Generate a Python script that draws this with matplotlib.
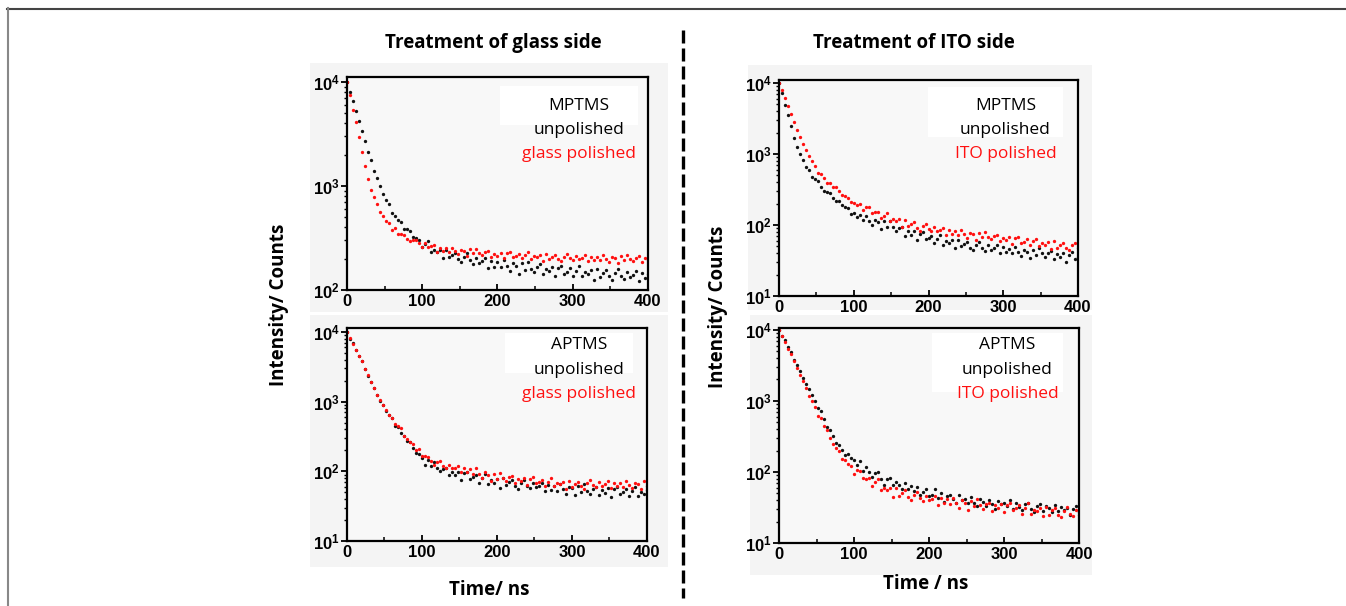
import matplotlib.pyplot as plt
from matplotlib.patches import Rectangle
from matplotlib.lines import Line2D
from matplotlib.ticker import FuncFormatter, NullFormatter, MultipleLocator
import numpy as np

plt.rcParams['mathtext.fontset'] = 'custom'
plt.rcParams['mathtext.bf'] = 'Liberation Sans:bold'
plt.rcParams['mathtext.rm'] = 'Liberation Sans'

# decay traces, one point every 4 ns (counts)
time_ns = list(range(0, 401, 4))

glass_mptms_unpolished = [
    10000, 7960, 6560, 5235, 4190, 3420, 2695, 2140, 1765, 1400,
    1200, 998, 841, 733, 672, 550, 517, 471, 449, 386,
    388, 372, 323, 313, 304, 259, 275, 295, 233, 245,
    234, 245, 204, 244, 207, 218, 226, 200, 184, 208,
    226, 193, 179, 205, 182, 189, 204, 163, 190, 168,
    185, 165, 194, 171, 151, 181, 171, 143, 182, 157,
    187, 161, 149, 166, 176, 142, 161, 151, 167, 135,
    162, 172, 144, 150, 163, 136, 154, 171, 135, 148,
    143, 155, 125, 161, 134, 146, 156, 135, 124, 147,
    158, 137, 128, 149, 133, 139, 152, 123, 145, 130,
    144]
glass_mptms_polished = [
    10000, 7480, 5450, 4100, 2970, 2120, 1568, 1175, 919, 780,
    676, 567, 513, 462, 437, 376, 393, 345, 342, 339,
    310, 293, 304, 306, 281, 262, 281, 259, 263, 271,
    234, 256, 238, 251, 232, 256, 236, 221, 245, 237,
    213, 246, 225, 249, 228, 216, 230, 237, 207, 224,
    214, 227, 201, 225, 232, 208, 214, 224, 201, 217,
    231, 200, 211, 206, 218, 191, 222, 199, 209, 217,
    200, 190, 210, 220, 202, 194, 212, 198, 204, 215,
    189, 209, 195, 207, 193, 215, 200, 187, 209, 203,
    183, 212, 195, 218, 200, 191, 204, 212, 187, 203,
    195]
glass_aptms_unpolished = [
    10000, 7960, 6870, 5500, 4580, 3770, 2968, 2357, 1915, 1581,
    1255, 1034, 890, 735, 641, 578, 447, 427, 352, 326,
    272, 265, 219, 185, 179, 156, 125, 144, 120, 134,
    111, 100, 108, 110, 88, 97, 89, 98, 75, 94,
    99, 78, 82, 89, 69, 81, 92, 66, 74, 69,
    77, 57, 79, 63, 70, 75, 62, 55, 68, 75,
    61, 57, 68, 59, 62, 69, 52, 63, 54, 61,
    53, 65, 56, 48, 60, 57, 45, 61, 51, 65,
    53, 48, 56, 60, 45, 54, 49, 57, 43, 55,
    59, 47, 51, 56, 44, 52, 60, 44, 50, 48,
    54]
glass_aptms_polished = [
    10000, 8300, 6750, 5490, 4590, 3775, 2940, 2407, 1894, 1566,
    1234, 1055, 897, 748, 644, 584, 470, 444, 414, 324,
    295, 262, 247, 201, 206, 164, 165, 162, 139, 125,
    136, 139, 121, 111, 122, 111, 113, 120, 97, 113,
    98, 108, 93, 110, 93, 81, 97, 90, 73, 93,
    78, 95, 80, 73, 82, 86, 68, 78, 72, 80,
    63, 77, 82, 67, 70, 76, 62, 71, 79, 61,
    67, 65, 70, 56, 73, 60, 66, 71, 61, 56,
    68, 74, 64, 60, 70, 62, 66, 72, 57, 69,
    61, 68, 60, 73, 64, 57, 69, 66, 55, 72,
    62]
ito_mptms_unpolished = [
    10000, 7250, 4935, 3485, 2455, 1677, 1259, 995, 810, 647,
    593, 478, 446, 412, 346, 297, 294, 280, 241, 215,
    216, 191, 181, 174, 145, 148, 128, 137, 117, 135,
    115, 99, 119, 109, 87, 113, 94, 115, 93, 82,
    91, 95, 71, 81, 73, 81, 61, 75, 80, 63,
    65, 71, 55, 64, 72, 53, 59, 56, 61, 47,
    62, 50, 54, 58, 48, 44, 52, 57, 48, 43,
    52, 45, 48, 52, 40, 49, 42, 46, 40, 49,
    42, 36, 45, 42, 34, 45, 38, 47, 40, 35,
    40, 43, 33, 39, 35, 40, 30, 38, 41, 33,
    35]
ito_mptms_polished = [
    10000, 7945, 6235, 4700, 3635, 2862, 2155, 1733, 1368, 1155,
    945, 807, 666, 547, 525, 459, 392, 394, 344, 342,
    301, 266, 257, 243, 209, 207, 189, 196, 160, 177,
    178, 149, 150, 154, 127, 135, 148, 115, 122, 113,
    122, 95, 119, 98, 104, 109, 92, 83, 96, 102,
    87, 81, 93, 83, 85, 91, 73, 85, 75, 82,
    73, 85, 74, 66, 78, 74, 61, 77, 67, 80,
    68, 63, 69, 73, 59, 66, 61, 67, 54, 65,
    68, 56, 58, 63, 52, 59, 64, 51, 55, 52,
    57, 46, 59, 48, 53, 56, 48, 44, 52, 55,
    48]
ito_aptms_unpolished = [
    10000, 8310, 7070, 5670, 4830, 3810, 3165, 2630, 2100, 1714,
    1468, 1198, 1006, 803, 728, 548, 434, 391, 318, 255,
    240, 204, 172, 178, 157, 149, 127, 144, 104, 118,
    100, 86, 96, 99, 79, 66, 79, 81, 66, 72,
    66, 57, 71, 57, 63, 54, 61, 47, 53, 58,
    46, 48, 57, 43, 50, 38, 46, 48, 41, 37,
    48, 40, 42, 37, 45, 37, 33, 41, 38, 33,
    40, 35, 30, 39, 35, 36, 33, 40, 30, 37,
    32, 29, 35, 37, 30, 27, 33, 35, 28, 33,
    31, 27, 34, 28, 32, 29, 31, 25, 30, 33,
    27]
ito_aptms_polished = [
    10000, 8140, 6710, 5340, 4500, 3600, 2940, 2315, 1890, 1495,
    1180, 986, 815, 618, 575, 436, 388, 300, 244, 219,
    195, 153, 147, 129, 123, 93, 105, 103, 81, 79,
    82, 63, 72, 79, 56, 60, 56, 60, 44, 60,
    46, 51, 55, 45, 40, 48, 53, 43, 39, 46,
    40, 42, 46, 34, 43, 36, 41, 35, 43, 36,
    31, 40, 36, 29, 39, 33, 41, 34, 30, 35,
    37, 28, 34, 31, 35, 27, 34, 37, 29, 31,
    34, 26, 31, 36, 26, 29, 28, 31, 24, 32,
    25, 29, 31, 25, 23, 28, 32, 26, 24, 29,
    25]

W, H = 1346, 606
fig = plt.figure(figsize=(W / 100, H / 100), dpi=100)
fig.patch.set_facecolor('white')


def fx(px):
    return px / W


def fy(py):
    return 1 - py / H


# grey backdrops of the pasted panels
for l, t, r, b in [(310, 63, 668, 312), (310, 315, 668, 567),
                   (748, 65, 1092, 310), (750, 315, 1092, 575)]:
    fig.add_artist(Rectangle((fx(l), fy(b)), fx(r - l), (b - t) / H,
                             transform=fig.transFigure, facecolor='#f4f4f4',
                             edgecolor='none', zorder=-2))

panels = [
    # box (left, top, right, bottom) px, ylim, black, red, labels, white box
    ((347, 77, 648, 290), (100, 1.12e4), glass_mptms_unpolished, glass_mptms_polished,
     ['MPTMS', 'unpolished', 'glass polished'], (500, 86, 638, 125)),
    ((347, 328, 647, 541), (10, 1.14e4), glass_aptms_unpolished, glass_aptms_polished,
     ['APTMS', 'unpolished', 'glass polished'], (505, 333, 633, 373)),
    ((779, 80, 1078, 296), (10, 1.1e4), ito_mptms_unpolished, ito_mptms_polished,
     ['MPTMS', 'unpolished', 'ITO polished'], (928, 87, 1063, 137)),
    ((779, 328, 1079, 543), (10, 1.06e4), ito_aptms_unpolished, ito_aptms_polished,
     ['APTMS', 'unpolished', 'ITO polished'], (932, 333, 1063, 392)),
]

red = '#ff1010'
for (l, t, r, b), ylim, black_y, red_y, labels, wbox in panels:
    ax = fig.add_axes([fx(l), fy(b), fx(r - l), (b - t) / H])
    ax.set_facecolor('#f8f8f8')
    # white box behind the label text
    ax.add_patch(Rectangle((fx(wbox[0]), fy(wbox[3])), fx(wbox[2] - wbox[0]),
                           (wbox[3] - wbox[1]) / H, transform=fig.transFigure,
                           facecolor='white', edgecolor='none', zorder=0.5))
    ax.plot(time_ns, black_y, 'o', color='#111111', ms=2.4, mew=0, zorder=2)
    ax.plot(time_ns, red_y, 'o', color=red, ms=2.4, mew=0, zorder=2)
    ax.set_yscale('log')
    ax.set_xlim(0, 400)
    ax.set_ylim(*ylim)
    ax.xaxis.set_major_locator(MultipleLocator(100))
    ax.xaxis.set_minor_locator(MultipleLocator(50))
    ax.yaxis.set_major_formatter(FuncFormatter(
        lambda v, p: r'$\mathbf{10^{%d}}$' % round(np.log10(v))))
    ax.yaxis.set_minor_formatter(NullFormatter())
    ax.tick_params(axis='x', which='both', direction='in', pad=3)
    ax.tick_params(axis='x', which='major', length=4, width=1.3)
    ax.tick_params(axis='x', which='minor', length=3, width=1.1)
    ax.tick_params(axis='y', which='major', direction='out', length=4, width=1.3, pad=1)
    ax.tick_params(axis='y', which='minor', direction='out', length=2.5, width=1)
    for lab in ax.get_xticklabels() + ax.get_yticklabels():
        lab.set_fontfamily('Liberation Sans')
        lab.set_fontweight('bold')
        lab.set_fontsize(12)
    for s in ax.spines.values():
        s.set_linewidth(1.6)
    cx = (wbox[0] + wbox[2]) / 2 + 10
    rows = [106, 130, 154] if t < 100 else [345, 370, 394]
    for txt, col, row in zip(labels, ['black', 'black', red], rows):
        fig.text(fx(cx), fy(row), txt, color=col, ha='center', va='center',
                 fontfamily='Open Sans', fontsize=12.5)

title_kw = dict(ha='center', va='center', fontfamily='Open Sans',
                fontweight='bold', fontsize=13.5)
fig.text(fx(493), fy(43), 'Treatment of glass side', **title_kw)
fig.text(fx(914), fy(43), 'Treatment of ITO side', **title_kw)
fig.text(fx(279), fy(305), 'Intensity/ Counts', rotation=90, **title_kw)
fig.text(fx(718), fy(307), 'Intensity/ Counts', rotation=90, **title_kw)
fig.text(fx(489), fy(590), 'Time/ ns', **title_kw)
fig.text(fx(926), fy(584), 'Time / ns', **title_kw)

# dashed divider and page frame
fig.add_artist(Line2D([fx(683), fx(683)], [fy(30), fy(598)], color='black',
                      lw=2.4, dashes=(3.9, 1.5), transform=fig.transFigure))
fig.add_artist(Line2D([fx(7), 1], [fy(8.5), fy(8.5)], color='#444444', lw=1.5,
                      transform=fig.transFigure))
fig.add_artist(Line2D([fx(7.5), fx(7.5)], [0, fy(8)], color='#888888', lw=1.5,
                      transform=fig.transFigure))

fig.savefig('out.png', dpi=100)
